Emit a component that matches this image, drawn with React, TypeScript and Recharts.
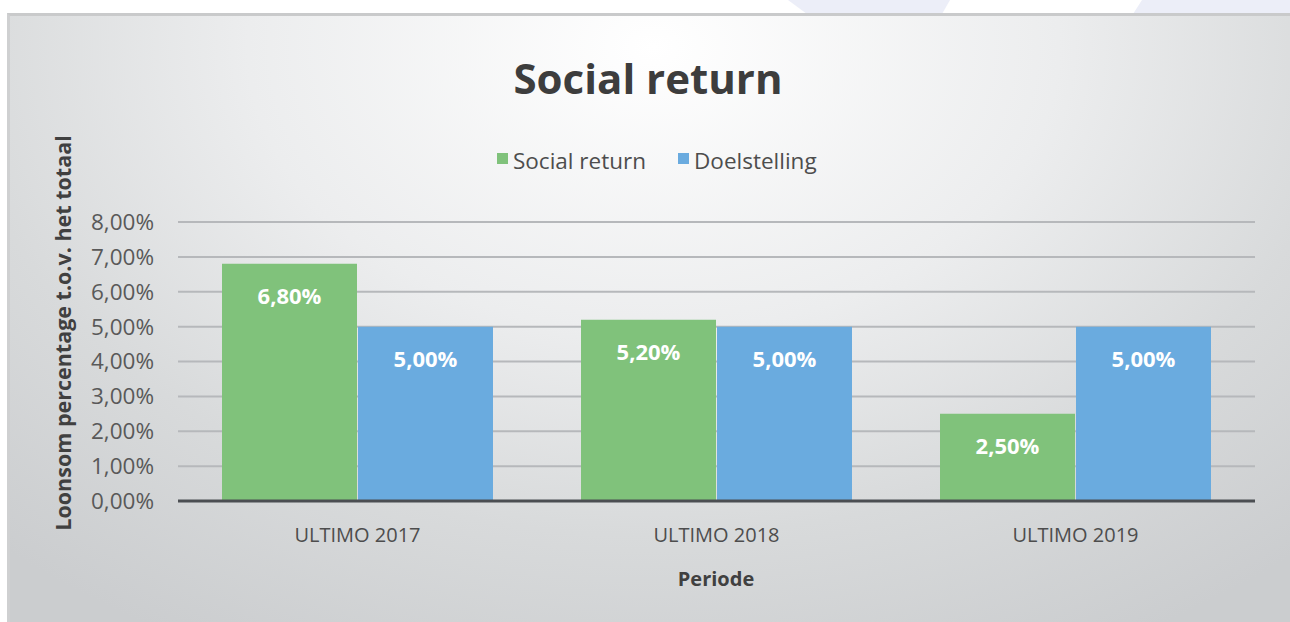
import React from "react"
import { Bar, BarChart, CartesianGrid, LabelList, XAxis, YAxis } from "recharts"

const periods = ["ULTIMO 2017", "ULTIMO 2018", "ULTIMO 2019"]
const socialReturn = [6.8, 5.2, 2.5]
const doelstelling = [5.0, 5.0, 5.0]
const yTicks = [0, 1, 2, 3, 4, 5, 6, 7, 8]
const seriesNames = ["Social return", "Doelstelling"]
const seriesColors = ["#80c27b", "#6aabdf"]

const data = periods.map((name, i) => ({
    name,
    [seriesNames[0]]: socialReturn[i],
    [seriesNames[1]]: doelstelling[i],
}))

const FONT = "'Open Sans', 'Noto Sans', sans-serif"
const pct = (v: number) => v.toFixed(2).replace(".", ",") + "%"

const App = () => {
    return (
        <div style={{ position: "absolute", left: 0, top: 0, width: 1290, height: 622, background: "#fff", overflow: "hidden", fontFamily: FONT }}>
            {/* decorative shapes above the chart */}
            <svg width={1290} height={14} style={{ position: "absolute", left: 0, top: 0 }}>
                <polygon points="788,0 950,0 942,14 807,14" fill="#eceef8" />
                <polygon points="1142,0 1290,0 1290,14 1133,14" fill="#eceef8" />
            </svg>
            <div style={{
                position: "absolute", left: 7, top: 13, width: 1290, height: 620,
                borderTop: "3px solid #c9cacb", borderLeft: "3px solid #cfd0d1",
                boxSizing: "border-box",
                background: "radial-gradient(ellipse 75% 110% at 50% 5%, #ffffff 0%, #ecedee 42%, #d8dadb 72%, #cbcdcf 100%)",
            }} />
            <div style={{ position: "absolute", left: 0, top: 50, width: 1296, textAlign: "center", fontSize: 42, fontWeight: 700, color: "#3d3d3d", lineHeight: "56px" }}>
                Social return
            </div>
            <div style={{ position: "absolute", left: 497, top: 146, height: 28, display: "flex", alignItems: "center", fontSize: 22.5, color: "#4d4d4d", whiteSpace: "nowrap" }}>
                {seriesNames.map((n, i) => (
                    <span key={n} style={{ display: "flex", alignItems: "center", marginRight: i === 0 ? 32 : 0 }}>
                        <span style={{ width: 11, height: 11, background: seriesColors[i], marginRight: 5, marginTop: -3 }} />
                        {n}
                    </span>
                ))}
            </div>
            <div style={{ position: "absolute", left: 716, top: 578, transform: "translate(-50%, -50%)", fontSize: 20, fontWeight: 700, color: "#404040", whiteSpace: "nowrap" }}>
                Periode
            </div>
            <div style={{ position: "absolute", left: 62, top: 333, transform: "translate(-50%, -50%) rotate(-90deg)", fontSize: 21.5, fontWeight: 700, color: "#404040", whiteSpace: "nowrap" }}>
                Loonsom percentage t.o.v. het totaal
            </div>
            <div style={{ position: "absolute", left: 0, top: 0 }}>
                <BarChart
                    width={1290}
                    height={622}
                    data={data}
                    margin={{ top: 222, right: 35, bottom: 61, left: 58 }}
                    barCategoryGap={44}
                    barGap={1}
                >
                    <CartesianGrid vertical={false} stroke="#b6b8bb" strokeWidth={2} />
                    <XAxis
                        dataKey="name"
                        height={60}
                        tickLine={false}
                        tickSize={0}
                        tickMargin={27}
                        axisLine={{ stroke: "#4b4e52", strokeWidth: 3 }}
                        tick={{ fill: "#4d4d4d", fontSize: 20, fontFamily: FONT }}
                    />
                    <YAxis
                        width={120}
                        domain={[0, 8]}
                        ticks={yTicks}
                        tickFormatter={pct}
                        axisLine={false}
                        tickLine={false}
                        tickSize={0}
                        tickMargin={24}
                        tick={{ fill: "#595959", fontSize: 22.5, fontFamily: FONT }}
                    />
                    {seriesNames.map((n, i) => (
                        <Bar key={n} dataKey={n} fill={seriesColors[i]} isAnimationActive={false}>
                            <LabelList dataKey={n} position="insideTop" offset={25} formatter={pct} fill="#ffffff" fontSize={22} fontWeight={700} fontFamily={FONT} />
                        </Bar>
                    ))}
                </BarChart>
            </div>
        </div>
    )
}

export default App
